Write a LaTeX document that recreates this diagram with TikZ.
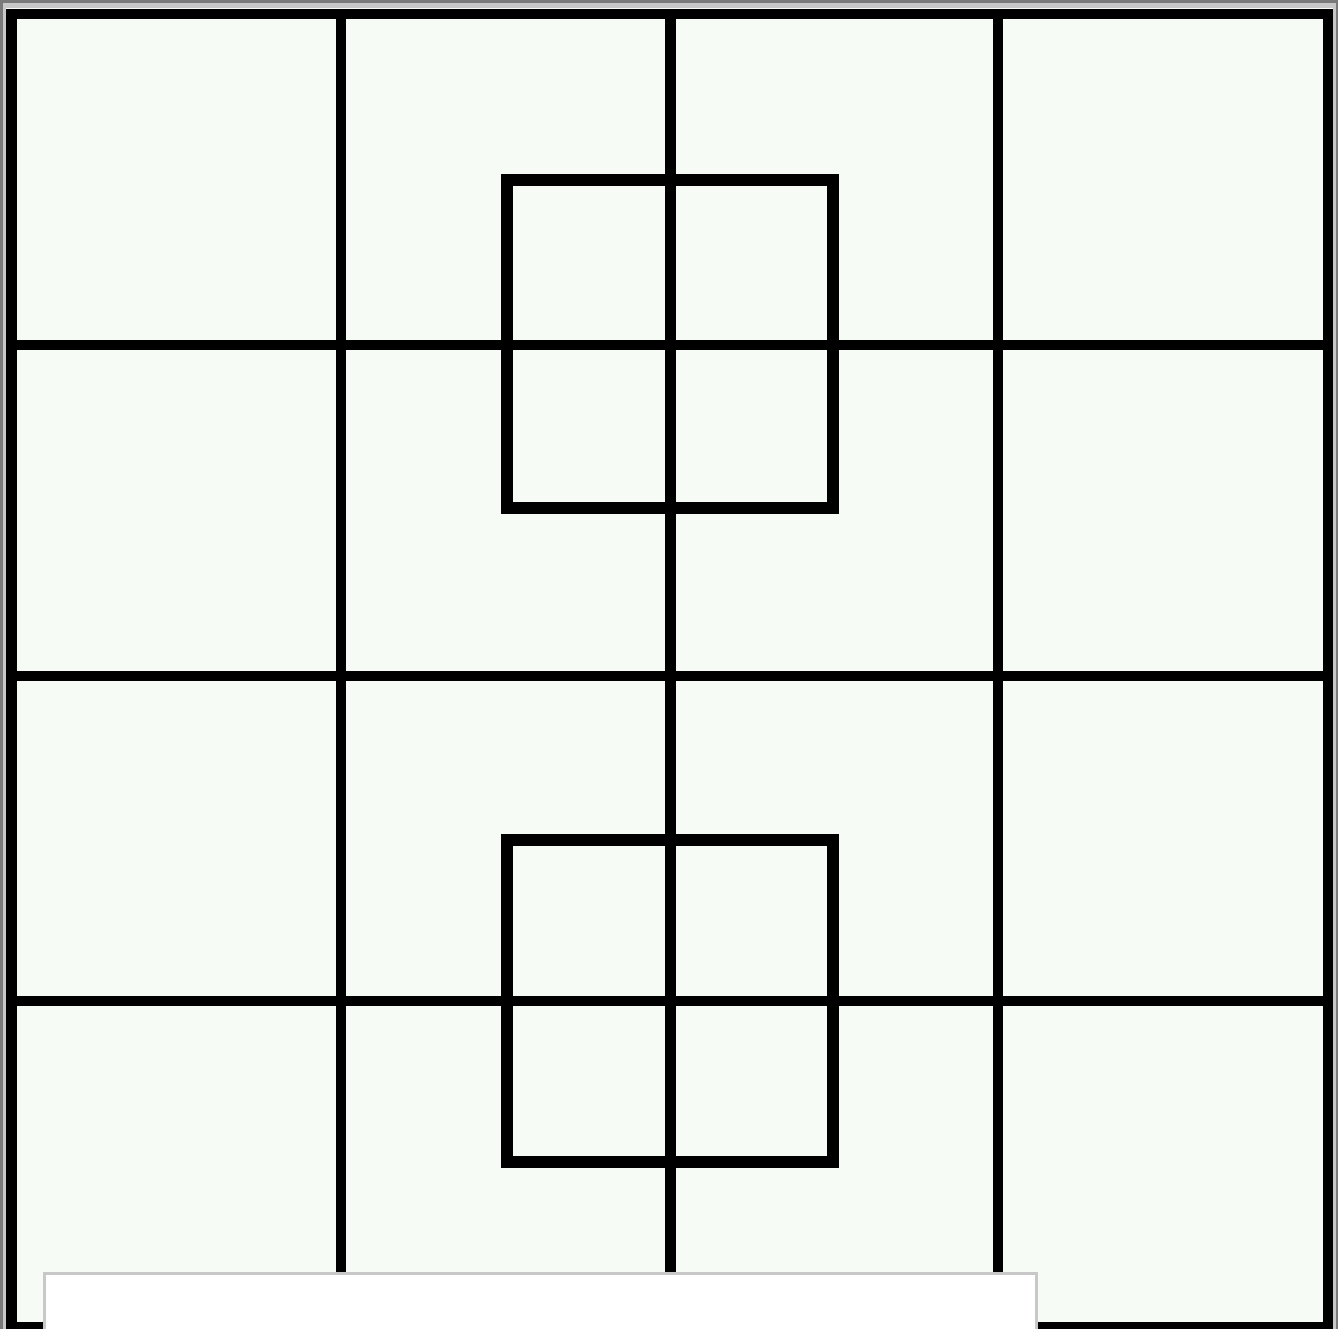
\documentclass[tikz,border=0pt]{standalone}
\definecolor{bgc}{HTML}{F7FBF6}
\definecolor{edgegray}{HTML}{7A7A7A}
\definecolor{boxgray}{HTML}{C8C8C8}
\tikzset{
  gridline/.style={line width=10.5pt, black, line cap=rect},
  sqline/.style={line width=12pt, black, line join=miter},
  coverbox/.style={fill=white, draw=boxgray, line width=3pt}
}
\begin{document}
\begin{tikzpicture}[x=1pt,y=-1pt]
\useasboundingbox (0,0) rectangle (1338,1329);
\clip (0,0) rectangle (1338,1329);
% edges and background
\fill[edgegray] (0,0) rectangle (1338,1329);
\fill[boxgray] (3,3) rectangle (1336,1329);
\fill[bgc] (6,8) rectangle (1333,1329);
% grid: vertical lines
\foreach \x in {11.5,341,670.5,998,1328}
  \draw[gridline] (\x,14) -- (\x,1335);
% grid: horizontal lines
\foreach \y in {14,345,676,1001,1327}
  \draw[gridline] (11.5,\y) -- (1328,\y);
% inner squares
\draw[sqline] (507,180) rectangle (833,508);
\draw[sqline] (507,840) rectangle (833,1162);
% white box at the bottom
\draw[coverbox] (44,1273) rectangle (1036,1340);
\end{tikzpicture}
\end{document}
